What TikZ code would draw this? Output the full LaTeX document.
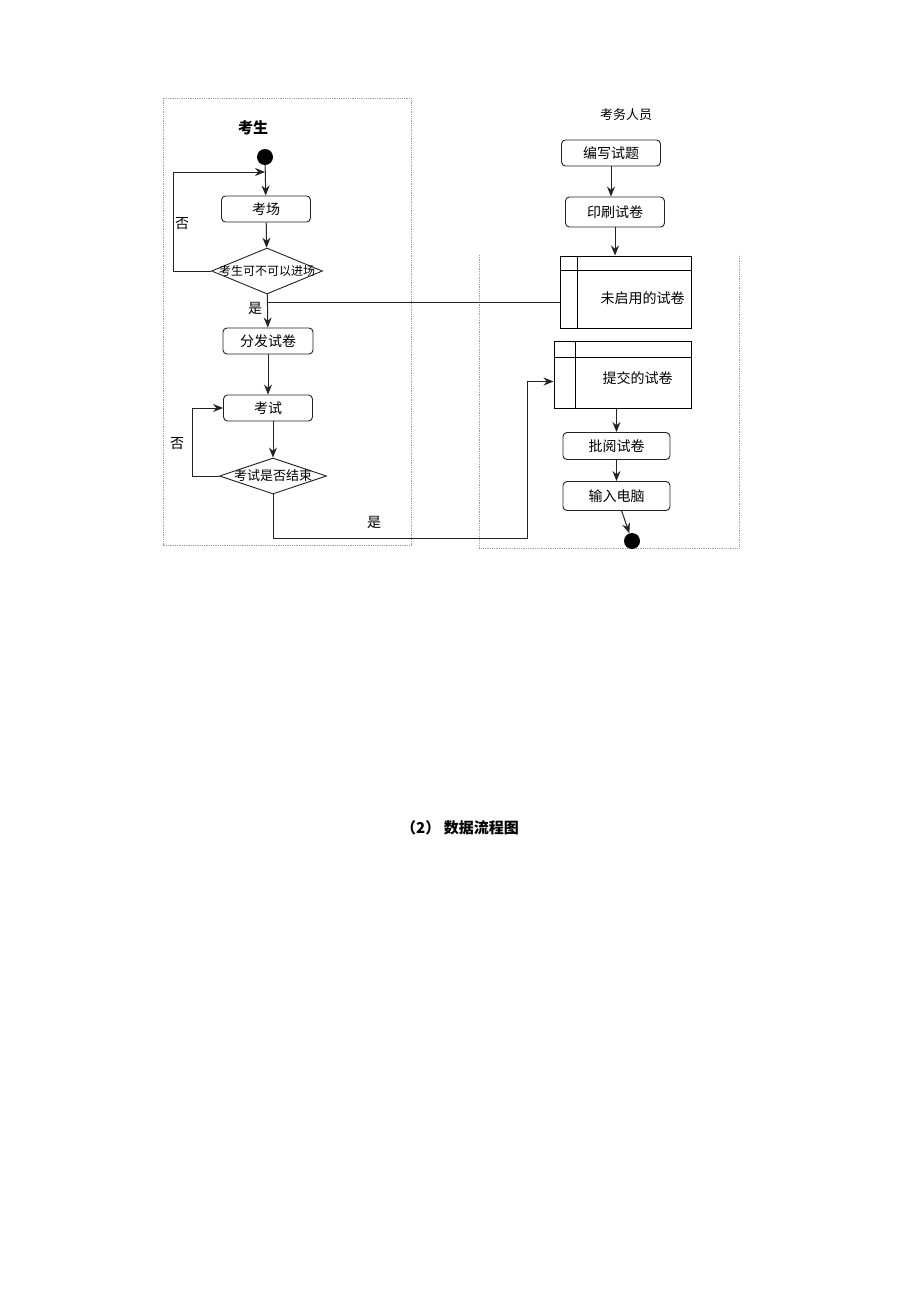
\documentclass[tikz,border=0pt]{standalone}
\usepackage{fontspec}
\setmainfont{Noto Sans CJK SC}
\usepackage{xcolor}
\usepackage{tikz}
\usetikzlibrary{shapes.geometric,arrows.meta,calc}
\definecolor{lanegray}{RGB}{160, 160, 160}
\definecolor{flowgray}{RGB}{35, 35, 35}

\tikzset{
    actbox/.style={draw=flowgray, line width=0.9pt, rounded corners=4pt, font=\fontsize{14}{16}\selectfont},
    decbox/.style={draw=flowgray, line width=0.9pt, diamond, inner sep=0pt, font=\fontsize{12}{14}\selectfont},
    storebox/.style={draw=black, line width=1pt, rectangle},
    dotnode/.style={circle, fill=black, minimum size=16pt, inner sep=0pt},
    lane/.style={densely dotted, lanegray, line width=0.8pt},
    flow/.style={-{Stealth[length=10pt,width=8pt]}, flowgray, line width=1pt},
    plain/.style={flowgray, line width=1pt},
    tag/.style={font=\fontsize{14}{16}\selectfont}
}

\begin{document}
\begin{tikzpicture}[x=1pt, y=-1pt]
    \useasboundingbox (0,0) rectangle (920,1302);

    % Lanes
    \draw[lane] (163,98) rectangle (411,545);
    \draw[lane] (479,255) -- (479,548) -- (739,548) -- (739,255);

    % Lane A - examinee
    \node[font=\fontsize{15}{17}\selectfont\bfseries] (candidate) at (253,128) {考生};
    \node[dotnode] (start) at (265,157) {};
    \node[actbox, minimum width=89, minimum height=26] (hall) at (266,209) {考场};
    \node[decbox, minimum width=111, minimum height=46] (canenter) at (267,271) {\makebox[0pt]{考生可不可以进场}};
    \node[actbox, minimum width=90, minimum height=26] (handout) at (268,341) {分发试卷};
    \node[actbox, minimum width=89, minimum height=26] (exam) at (268,408) {考试};
    \node[decbox, minimum width=107, minimum height=36, font=\fontsize{13}{15}\selectfont] (examover) at (273,476) {\makebox[0pt]{考试是否结束}};

    \coordinate (backin) at (265,172);
    \coordinate (toright) at (267,302);
    \coordinate (bend) at (527,538);

    \draw[flow] (start) -- (hall);
    \draw[flow] (canenter.west) -- ++(-38,0) |- (backin);
    \node[tag] (noA) at (182,224) {否};
    \draw[flow] (hall) -- (canenter);
    \draw[flow] (canenter) -- (handout);
    \node[tag] (yesA) at (255,308) {是};
    \draw[flow] (handout) -- (exam);
    \draw[flow] (exam.south -| examover) -- (examover);
    \draw[flow] (examover.west) -- ++(-27,0) |- (exam.west);
    \node[tag] (noB) at (177,444) {否};
    \node[tag] (yesB) at (374,522) {是};

    % Lane B - exam staff
    \node[font=\fontsize{13}{15}\selectfont] (staff) at (626,115) {考务人员};
    \node[actbox, minimum width=99, minimum height=26] (write) at (611,153) {编写试题};
    \node[actbox, minimum width=99, minimum height=30] (print) at (615,212) {印刷试卷};
    \node[storebox, minimum width=131, minimum height=72,
          label={[shift={(17,6)}, font=\fontsize{14}{16}\selectfont]center:未启用的试卷}] (unused) at (625.5,292) {};
    \node[storebox, minimum width=137, minimum height=67,
          label={[shift={(15,4)}, font=\fontsize{14}{16}\selectfont]center:提交的试卷}] (handed) at (622.5,374.5) {};
    \node[actbox, minimum width=107, minimum height=27] (mark) at (616.5,446) {批阅试卷};
    \node[actbox, minimum width=107, minimum height=29] (enter) at (616.5,496) {输入电脑};
    \node[dotnode] (finish) at (632,541) {};

    % store compartments
    \draw[black, line width=0.9pt] ($(unused.north west)+(0,15)$) -- ($(unused.north east)+(0,15)$);
    \draw[black, line width=0.9pt] ($(unused.north west)+(18,0)$) -- ($(unused.south west)+(18,0)$);
    \draw[black, line width=0.9pt] ($(handed.north west)+(0,17)$) -- ($(handed.north east)+(0,17)$);
    \draw[black, line width=0.9pt] ($(handed.north west)+(22,0)$) -- ($(handed.south west)+(22,0)$);

    \draw[flow] (write) -- (write |- print.north);
    \draw[flow] (print) -- (print |- unused.north);
    \draw[flow] (handed.south -| mark) -- (mark);
    \draw[flow] (mark) -- (enter);
    \draw[flow] (enter) -- (finish);

    % between the lanes
    \draw[plain] (toright) -- (toright -| unused.west);
    \draw[flow] (examover.south) |- (bend) |- ([yshift=-7pt]handed.west);

    % caption
    \node[font=\fontsize{15}{17}\selectfont\bfseries] (caption) at (460,828) {（2） 数据流程图};
\end{tikzpicture}
\end{document}
